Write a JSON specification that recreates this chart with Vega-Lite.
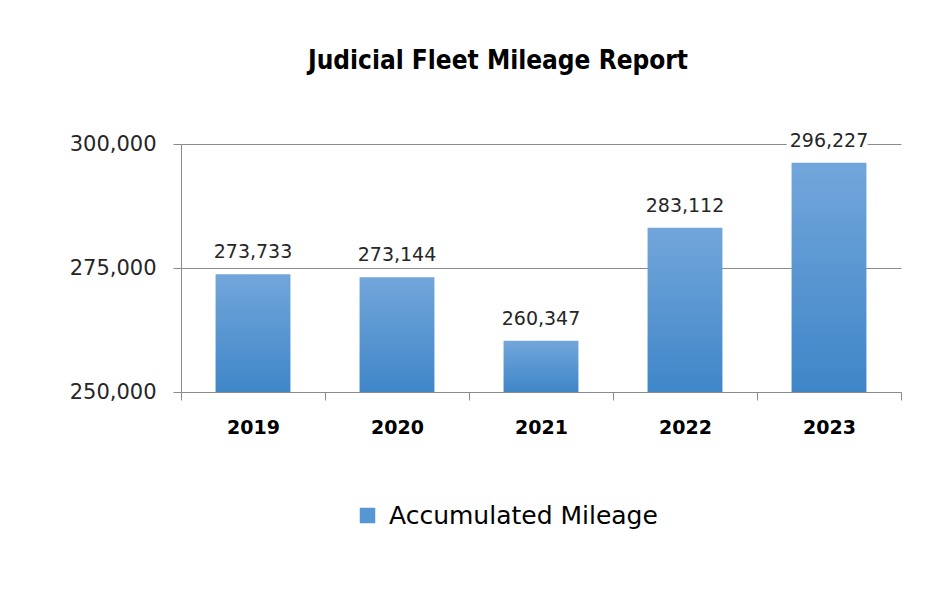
{
  "$schema": "https://vega.github.io/schema/vega-lite/v6.json",
  "autosize": {"type": "none"},
  "padding": {"left": 181, "top": 144, "right": 36, "bottom": 197},
  "width": 720,
  "height": 248,
  "background": "white",
  "title": {
    "text": "Judicial  Fleet Mileage Report",
    "anchor": "middle",
    "dx": -43,
    "offset": 58,
    "font": "Liberation Sans Narrow, DejaVu Sans Condensed, sans-serif",
    "fontSize": 26,
    "fontWeight": "bold",
    "color": "#000000"
  },
  "config": {
    "view": {"stroke": null},
    "font": "DejaVu Sans"
  },
  "data": {
    "values": [
      {"year": "2019", "mileage": 273733, "series": "Accumulated Mileage"},
      {"year": "2020", "mileage": 273144, "series": "Accumulated Mileage"},
      {"year": "2021", "mileage": 260347, "series": "Accumulated Mileage"},
      {"year": "2022", "mileage": 283112, "series": "Accumulated Mileage"},
      {"year": "2023", "mileage": 296227, "series": "Accumulated Mileage"}
    ]
  },
  "encoding": {
    "x": {
      "field": "year",
      "type": "nominal",
      "sort": null,
      "scale": {"paddingInner": 0, "paddingOuter": 0},
      "axis": {
        "title": null,
        "labelAngle": 0,
        "labelFont": "DejaVu Sans",
        "labelFontWeight": "bold",
        "labelFontSize": 19,
        "labelColor": "#000000",
        "labelPadding": 18,
        "tickBand": "extent",
        "tickSize": 8,
        "tickColor": "#8c8c8c",
        "domainColor": "#8c8c8c",
        "grid": false
      }
    },
    "y": {
      "field": "mileage",
      "type": "quantitative",
      "scale": {"domain": [250000, 300000], "zero": false, "nice": false},
      "axis": {
        "title": null,
        "values": [250000, 275000, 300000],
        "format": ",d",
        "labelFont": "DejaVu Sans",
        "labelFontSize": 21,
        "labelColor": "#262626",
        "labelPadding": 17,
        "tickSize": 8,
        "tickColor": "#8c8c8c",
        "domainColor": "#8c8c8c",
        "gridColor": "#8c8c8c",
        "gridWidth": 1
      }
    }
  },
  "layer": [
    {
      "mark": {
        "type": "bar",
        "width": {"band": 0.52},
        "color": {
          "gradient": "linear",
          "x1": 0, "y1": 0, "x2": 0, "y2": 1,
          "stops": [
            {"offset": 0, "color": "#72a6db"},
            {"offset": 1, "color": "#3f86c8"}
          ]
        }
      },
      "encoding": {
        "y2": {"datum": 250000}
      }
    },
    {
      "mark": {"type": "square", "opacity": 0},
      "encoding": {
        "color": {
          "field": "series",
          "type": "nominal",
          "scale": {"range": ["#5596d3"]},
          "legend": {
            "title": null,
            "orient": "none",
            "legendX": 174,
            "legendY": 359,
            "direction": "horizontal",
            "symbolType": "square",
            "symbolSize": 240,
            "symbolOpacity": 1,
            "symbolStrokeWidth": 0,
            "labelFont": "DejaVu Sans",
            "labelFontSize": 25,
            "labelColor": "#000000",
            "labelOffset": 9,
            "labelLimit": 400
          }
        }
      }
    },
    {
      "mark": {
        "type": "text",
        "baseline": "bottom",
        "dy": -12,
        "font": "DejaVu Sans",
        "fontSize": 19,
        "fill": "white",
        "stroke": "white",
        "strokeWidth": 9,
        "strokeJoin": "round"
      },
      "encoding": {
        "text": {"field": "mileage", "type": "quantitative", "format": ",d"}
      }
    },
    {
      "mark": {
        "type": "text",
        "baseline": "bottom",
        "dy": -12,
        "font": "DejaVu Sans",
        "fontSize": 19,
        "color": "#262626"
      },
      "encoding": {
        "text": {"field": "mileage", "type": "quantitative", "format": ",d"}
      }
    }
  ]
}
